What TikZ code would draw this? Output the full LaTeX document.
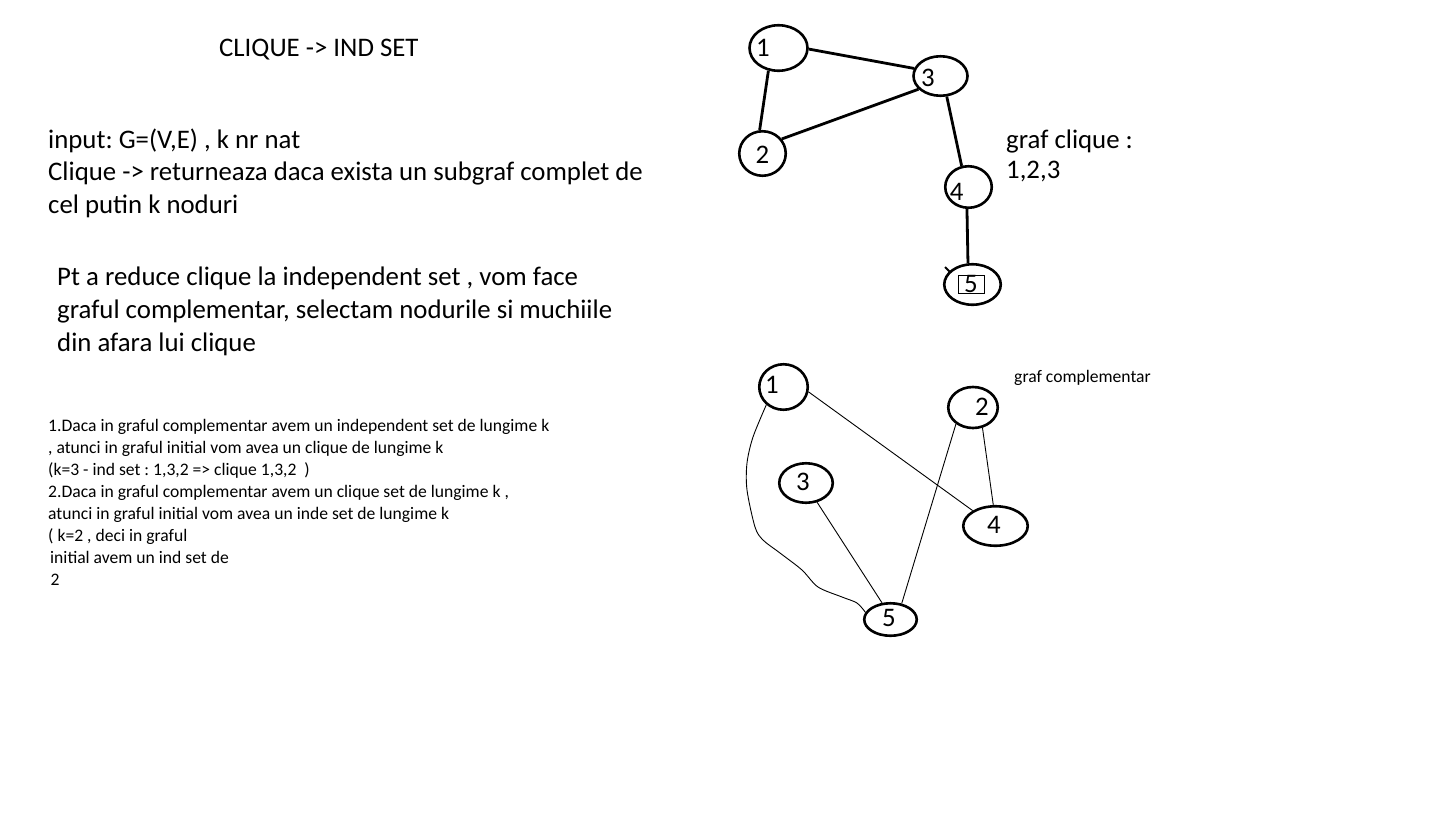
\documentclass[tikz,border=0pt]{standalone}
\usepackage{fontspec}
\setmainfont{Carlito}
\usetikzlibrary{shapes.geometric}
\frenchspacing

\begin{document}
\begin{tikzpicture}[x=1pt,y=-1pt,
    vtx/.style={draw,ellipse,line width=2.6pt,inner sep=0pt},
    nr/.style={font=\fontsize{26.8}{26.8}\selectfont,inner sep=0pt},
    heavy/.style={line width=2.8pt},
    light/.style={line width=0.9pt},
    big/.style={font=\fontsize{26.8}{32.5}\selectfont,align=left,anchor=base west,inner sep=0pt},
    small/.style={font=\fontsize{17.6}{22}\selectfont,align=left,anchor=base west,inner sep=0pt}]
  \useasboundingbox (0,0) rectangle (1441,823);

  \node[big] (title) at (219,56.7) {CLIQUE -> IND SET};
  \node[big] (input) at (48,213.3) {input: G=(V,E) , k nr nat\\
    Clique -> returneaza daca exista un subgraf complet de\\
    cel putin k noduri};
  \node[big,font=\fontsize{26.8}{33.3}\selectfont] (reduce) at (57,351.7) {Pt a reduce clique la independent set , vom face\\
    graful complementar, selectam nodurile si muchiile\\
    din afara lui clique};
  \node[small] (notes) at (48,585.7) {1.Daca in graful complementar avem un independent set de lungime k\\
    , atunci in graful initial vom avea un clique de lungime k\\
    (k=3 - ind set : 1,3,2 => clique 1,3,2\ \ )\\
    2.Daca in graful complementar avem un clique set de lungime k ,\\
    atunci in graful initial vom avea un inde set de lungime k\\
    ( k=2 , deci in graful\\
    \hspace{2pt}initial avem un ind set de\\
    \hspace{2.5pt}2};
  \node[big,font=\fontsize{26.8}{30}\selectfont] (cliq) at (1006,178.3) {graf clique :\\1,2,3};
  \node[small] (compl) at (1014,382.3) {graf complementar};

  \node[vtx,minimum width=58,minimum height=45.5,label={[nr,xshift=-15.5,yshift=0.3]center:1}] (a1) at (778.5,48) {};
  \node[vtx,minimum width=54,minimum height=39.5,label={[nr,xshift=-12.5,yshift=-2.3]center:3}] (a3) at (940.5,76) {};
  \node[vtx,minimum width=46.5,minimum height=44.5,label={[nr,yshift=-1.5]center:2}] (a2) at (762.5,153.5) {};
  \node[vtx,minimum width=46.5,minimum height=41.5,label={[nr,xshift=-11.8,yshift=-4.7]center:4}] (a4) at (968.5,187) {};
  \node[vtx,minimum width=56.5,minimum height=40.5,label={[nr,draw,line width=0.6pt,minimum width=26,minimum height=18,xshift=-1.5,yshift=0.5]center:5}] (a5) at (972.5,284.5) {};
  \coordinate (tick) at (945,267);

  \draw[heavy] (a1.-2) -- (a3.164);
  \draw[heavy] (a1.246) -- (a2.97);
  \draw[heavy] (a2.37) -- (a3.211);
  \draw[heavy] (a3.287) -- (a4.108);
  \draw[heavy] (a4.266) -- (a5.102);
  \draw[line width=2pt] (tick) -- ++(5,5);

  \node[vtx,minimum width=48.5,minimum height=45.5,label={[nr,xshift=-11.5,yshift=2]center:1}] (b1) at (783.5,387) {};
  \node[vtx,minimum width=49.5,minimum height=41,label={[nr,xshift=9,yshift=0.5]center:2}] (b2) at (973,407.5) {};
  \node[vtx,minimum width=53.5,minimum height=39.5,label={[nr,xshift=-3,yshift=1]center:3}] (b3) at (806,483) {};
  \node[vtx,minimum width=64.5,minimum height=39.5,label={[nr,xshift=-1.5,yshift=1]center:4}] (b4) at (995.5,526) {};
  \node[vtx,minimum width=52.5,minimum height=32.5,label={[nr,xshift=-1.5,yshift=1.5]center:5}] (b5) at (890.5,619.5) {};

  \draw[light] (b1.349) -- (b4.146);
  \draw[light] (b2.295) -- (b4.96);
  \draw[light] (b2.224) -- (b5.55);
  \draw[light] (b3.300) -- (b5.117);
  \draw[light] plot[smooth,tension=0.5] coordinates {(b1.226) (753,437) (747,463) (747,490) (755,527) (763,540) (780,553) (802,570) (818,587) (842,597) (857,603) (b5.164)};
\end{tikzpicture}
\end{document}
